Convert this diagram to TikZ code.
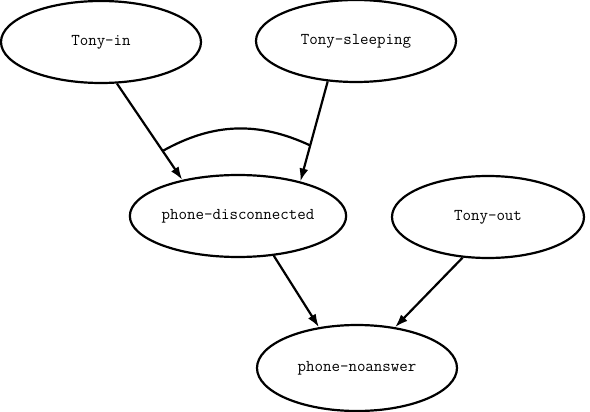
\documentclass[tikz,border=0pt]{standalone}
\usetikzlibrary{
    arrows.meta,
    shapes.geometric, % for the ellipse nodes
    positioning
}

\begin{document}
\begin{tikzpicture}[x=1pt, y=1pt,
    event/.style={draw, ellipse, line width=2.2pt, inner sep=0pt,
                  minimum width=200pt, minimum height=82pt,
                  font=\fontsize{16.5}{18}\selectfont\ttfamily},
    causes/.style={-{Latex[length=13pt,width=9pt]}, line width=2.2pt}
]
    \useasboundingbox (0,0) rectangle (590,-412);

    \node[event]                      (tonyin)   at (101,-42)  {Tony-in};
    \node[event]                      (tonysleep) at (356,-41) {Tony-sleeping};
    \node[event, minimum width=208pt] (phonedisc) at (238,-216) {phone-disconnected};
    \node[event, minimum width=192pt] (tonyout)  at (488,-217) {Tony-out};
    \node[event, minimum height=86pt] (phonenoans) at (357,-368) {phone-noanswer};

    \draw[causes] (tonyin.-69)    -- coordinate[pos=0.7]  (andleft)  (phonedisc.147);
    \draw[causes] (tonysleep.-125) -- coordinate[pos=0.64] (andright) (phonedisc.29);
    \draw[causes] (phonedisc.-48) -- (phonenoans.133);
    \draw[causes] (tonyout.-122)  -- (phonenoans.47);

    % arc joining the two causes of phone-disconnected
    \draw[line width=2.2pt] (andleft) to[bend left=27] (andright);
\end{tikzpicture}
\end{document}
